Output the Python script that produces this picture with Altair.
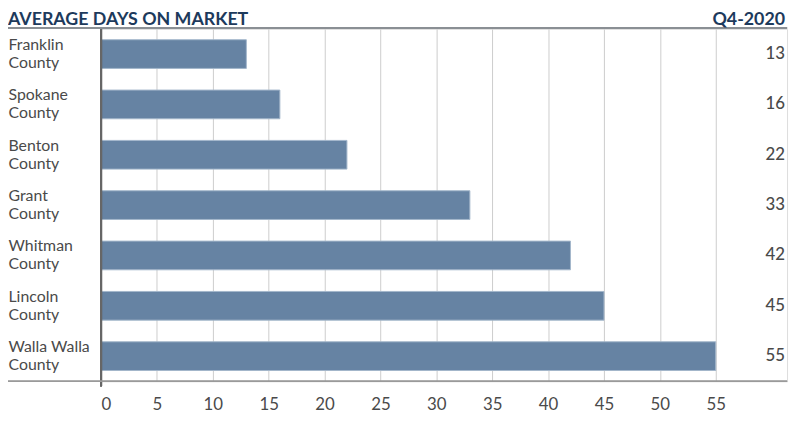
import altair as alt
import pandas as pd

counties = ["Franklin\nCounty", "Spokane\nCounty", "Benton\nCounty", "Grant\nCounty",
            "Whitman\nCounty", "Lincoln\nCounty", "Walla Walla\nCounty"]
days = [13, 16, 22, 33, 42, 45, 55]
x_ticks = [0, 5, 10, 15, 20, 25, 30, 35, 40, 45, 50, 55]
title_text = "AVERAGE DAYS ON MARKET"
period_text = "Q4-2020"

df = pd.DataFrame({"county": counties, "days": days})

W, H = 693, 356
FONT = "Lato"

y_enc = alt.Y("county:N", sort=None,
              scale=alt.Scale(paddingInner=0.43, paddingOuter=0.215),
              axis=alt.Axis(title=None, domain=False, ticks=False, labelAlign="left",
                            labelPadding=94, labelFont=FONT, labelFontSize=16,
                            labelColor="#4a4a4a", labelLineHeight=18, labelOffset=-9,
                            labelExpr="split(datum.label, '\\n')"))
x_enc = alt.X("days:Q", scale=alt.Scale(domain=[0, 61.38], nice=False, zero=True),
              axis=alt.Axis(title=None, values=x_ticks, domain=False, ticks=False,
                            grid=True, gridColor="#cccccc", gridWidth=1,
                            labelFont=FONT, labelFontSize=17, labelColor="#4a4a4a",
                            labelPadding=15))

bars = alt.Chart(df).mark_bar(color="#6683a3", stroke="#a3b6ca", strokeWidth=1).encode(
    x=x_enc, y=y_enc)

values = alt.Chart(df).mark_text(align="right", baseline="middle", font=FONT,
                                 fontSize=17, color="#4a4a4a", fontWeight=500).encode(
    y=alt.Y("county:N", sort=None), x=alt.value(691), text=alt.Text("days:Q"))

zero_line = alt.Chart(df).mark_rule(color="#666666", strokeWidth=2).encode(
    x=alt.value(0), y=alt.value(0), y2=alt.value(H + 5))

top_line = alt.Chart(df).mark_rule(color="#8a8f94", strokeWidth=1.5).encode(
    x=alt.value(-94), x2=alt.value(693), y=alt.value(-1))
bottom_line = alt.Chart(df).mark_rule(color="#9a9a9a", strokeWidth=1).encode(
    x=alt.value(-94), x2=alt.value(693), y=alt.value(H))

title = alt.Chart(pd.DataFrame({"t": [title_text]})).mark_text(
    align="left", baseline="alphabetic", font=FONT, fontSize=18, fontWeight="bold",
    color="#1d3a5c").encode(x=alt.value(-94), y=alt.value(-4), text="t:N")
period = alt.Chart(pd.DataFrame({"t": [period_text]})).mark_text(
    align="right", baseline="alphabetic", font=FONT, fontSize=18, fontWeight="bold",
    color="#1d3a5c").encode(x=alt.value(691), y=alt.value(-4), text="t:N")

chart = alt.layer(bars, zero_line, top_line, bottom_line, values, title, period).properties(
    width=W, height=H,
    autosize=alt.AutoSizeParams(type="none"),
    padding={"left": 94, "top": 19, "right": 5, "bottom": 41},
).configure_view(stroke=None).configure(background="white")

chart.save("out.html", embed_options={"renderer": "svg", "actions": False})
